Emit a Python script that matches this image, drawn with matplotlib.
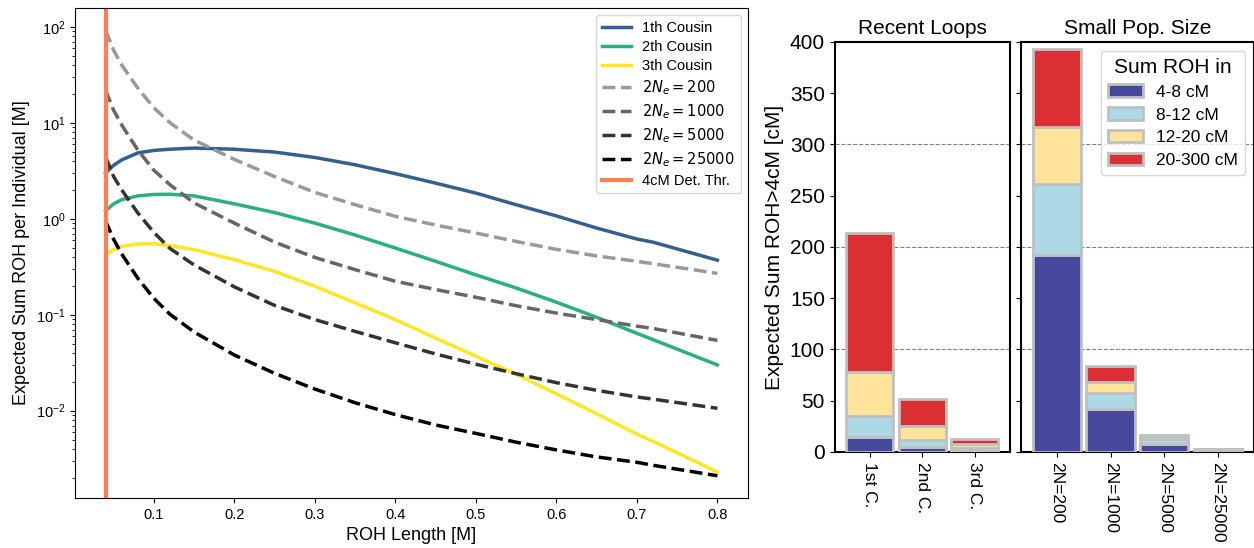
import numpy as np
import matplotlib
matplotlib.use("Agg")
import matplotlib.pyplot as plt

plt.rcParams['font.family'] = ['Liberation Sans', 'DejaVu Sans']

# ------------------------- Data: ROH length density (left) -------------------------
roh_len = [0.04, 0.05, 0.06, 0.08, 0.1, 0.12, 0.15, 0.2, 0.25, 0.3, 0.35, 0.4,
           0.45, 0.5, 0.55, 0.6, 0.65, 0.7, 0.72, 0.8]

cousin1 = [3.0, 3.6, 4.1, 4.85, 5.15, 5.3, 5.45, 5.3, 4.95, 4.35, 3.65, 2.95,
           2.35, 1.85, 1.4, 1.07, 0.80, 0.615, 0.57, 0.37]
cousin2 = [1.21, 1.43, 1.58, 1.73, 1.79, 1.80, 1.73, 1.43, 1.16, 0.90, 0.676, 0.495,
           0.36, 0.26, 0.19, 0.135, 0.094, 0.064, 0.055, 0.030]
cousin3 = [0.42, 0.476, 0.515, 0.546, 0.55, 0.525, 0.476, 0.375, 0.283, 0.198, 0.133, 0.089,
           0.057, 0.037, 0.024, 0.015, 0.0093, 0.0057, 0.0048, 0.0023]

ne200 = [92, 57, 40, 23, 14.3, 10, 6.6, 4.15, 2.75, 1.88, 1.4, 1.06,
         0.86, 0.71, 0.58, 0.48, 0.41, 0.36, 0.34, 0.27]
ne1000 = [21.9, 13.5, 9.5, 5.2, 3.2, 2.26, 1.46, 0.90, 0.57, 0.395, 0.295, 0.223,
          0.183, 0.152, 0.124, 0.104, 0.089, 0.076, 0.072, 0.054]
ne5000 = [4.4, 2.75, 2.0, 1.15, 0.72, 0.49, 0.33, 0.195, 0.125, 0.089, 0.067, 0.051,
          0.039, 0.0305, 0.0243, 0.0196, 0.0163, 0.0139, 0.0132, 0.0106]
ne25000 = [0.95, 0.61, 0.43, 0.24, 0.148, 0.101, 0.066, 0.038, 0.0245, 0.0168, 0.0121, 0.0091,
           0.0071, 0.0058, 0.0047, 0.0039, 0.0033, 0.0029, 0.0027, 0.0021]

det_thr = 0.04

# ------------------------- Data: stacked bars (right) -------------------------
bin_labels = ["4-8 cM", "8-12 cM", "12-20 cM", "20-300 cM"]
bin_colors = ["#46489c", "#add8e6", "#fee39b", "#dc2f34"]

loop_labels = ["1st C.", "2nd C.", "3rd C."]
loop_vals = [[14.4, 4.8, 1.6],      # 4-8 cM
             [20.5, 7.2, 2.5],      # 8-12 cM
             [42.7, 13.6, 4.0],     # 12-20 cM
             [136.1, 26.4, 4.6]]    # 20-300 cM

pop_labels = ["2N=200", "2N=1000", "2N=5000", "2N=25000"]
pop_vals = [[192.1, 41.7, 8.0, 1.8],
            [69.5, 15.7, 4.2, 0.9],
            [55.7, 11.0, 2.8, 0.5],
            [75.9, 15.4, 1.5, 0.2]]

# ------------------------- Figure -------------------------
fig = plt.figure(figsize=(12.54, 5.48), dpi=100)

ax = fig.add_axes([0.0598, 0.0912, 0.5367, 0.8942])
lw = 2.5
ax.plot(roh_len, cousin1, color="#355f8d", lw=lw, label="1th Cousin")
ax.plot(roh_len, cousin2, color="#2ab07f", lw=lw, label="2th Cousin")
ax.plot(roh_len, cousin3, color="#fde725", lw=lw, label="3th Cousin")
ax.plot(roh_len, ne200, "--", color="#999999", lw=lw, label="$2N_e = 200$")
ax.plot(roh_len, ne1000, "--", color="#666666", lw=lw, label="$2N_e = 1000$")
ax.plot(roh_len, ne5000, "--", color="#333333", lw=lw, label="$2N_e = 5000$")
ax.plot(roh_len, ne25000, "--", color="#000000", lw=lw, label="$2N_e = 25000$")
ax.axvline(det_thr, color="#ff7f50", lw=3, label="4cM Det. Thr.")
ax.set_yscale("log")
ax.set_xlabel("ROH Length [M]", fontsize=13)
ax.set_ylabel("Expected Sum ROH per Individual [M]", fontsize=13)
ax.tick_params(labelsize=10.5)
ax.legend(loc="upper right", fontsize=10.5, labelspacing=0.35)

# ------------------------- Bar panels -------------------------
ax1 = fig.add_axes([0.6656, 0.1752, 0.1398, 0.7482])
ax2 = fig.add_axes([0.814, 0.1752, 0.186, 0.7482], sharey=ax1)


def stacked(axis, labels, vals):
    x = np.arange(len(labels))
    bottom = np.zeros(len(labels))
    for v, c, lab in zip(vals, bin_colors, bin_labels):
        axis.bar(x, v, bottom=bottom, width=0.9, color=c, edgecolor="silver",
                 linewidth=2, label=lab, zorder=3)
        bottom += np.array(v)
    axis.set_xticks(x)
    axis.set_xticklabels(labels, rotation=270, fontsize=12.5)
    axis.set_xlim(-0.67, len(labels) - 0.33)
    for g in [100, 200, 300]:
        axis.axhline(g, color="gray", ls="--", lw=0.8, zorder=1)
    for s in axis.spines.values():
        s.set_linewidth(1.5)


stacked(ax1, loop_labels, loop_vals)
stacked(ax2, pop_labels, pop_vals)

ax1.set_ylim(0, 400)
ax1.set_yticks(np.arange(0, 401, 50))
ax1.tick_params(axis="y", labelsize=15)
ax2.tick_params(axis="y", labelleft=False)
ax1.set_ylabel("Expected Sum ROH>4cM [cM]", fontsize=15)
ax1.set_title("Recent Loops", fontsize=15)
ax2.set_title("Small Pop. Size", fontsize=15)
ax2.legend(loc="upper right", title="Sum ROH in", fontsize=12.5, title_fontsize=15,
           labelspacing=0.45)

fig.savefig("out.png", dpi=100)
